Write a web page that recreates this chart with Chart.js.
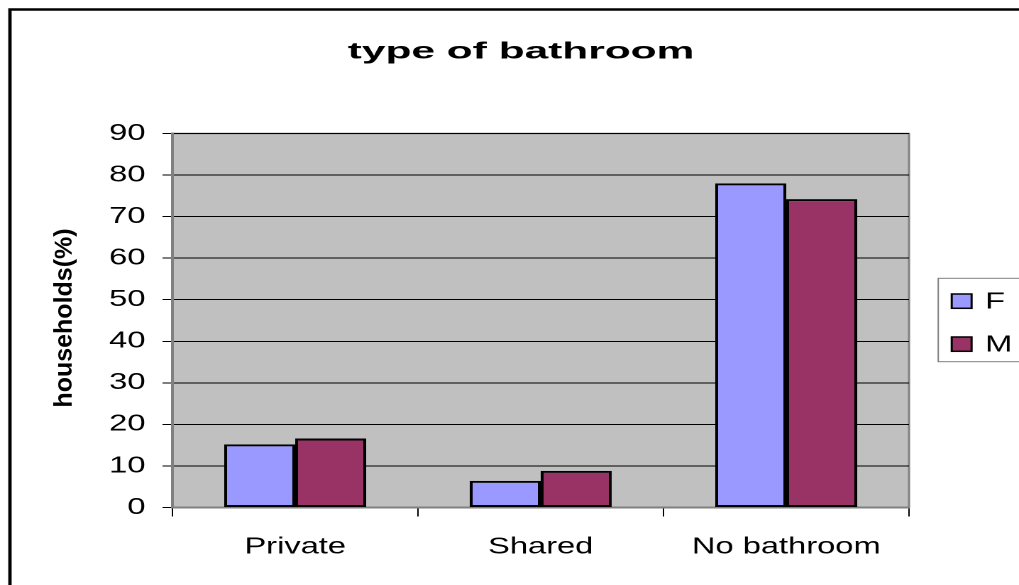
<!DOCTYPE html>
<html>
<head>
<meta charset="utf-8">
<script src="https://cdn.jsdelivr.net/npm/chart.js@4"></script>
<style>
  html, body { margin: 0; padding: 0; background: #fff; overflow: hidden; }
  /* the reference is stretched sideways, so the chart is drawn narrow and widened */
  #wrap { width: 718px; height: 585px; transform: scaleX(1.4192); transform-origin: 0 0; }
</style>
</head>
<body>
<div id="wrap"><canvas id="chart" width="718" height="585"></canvas></div>
<script>
// Données
const categories = ["Private", "Shared", "No bathroom"];
const seriesNames = ["F", "M"];
const valuesF = [15.2, 6.4, 78.0];
const valuesM = [16.6, 8.8, 74.2];
const chartTitle = "type of bathroom";
const yAxisTitle = "households(%)";
const yMin = 0;
const yMax = 90;
const yStep = 10;

const colorF = "#9999FF";
const colorM = "#993366";
const FONT = "'Liberation Sans', Arial, sans-serif";
const SX = 1.4192;

// Fond, cadre, titre et légende façon Excel
const excelLook = {
  id: "excelLook",
  beforeDraw(chart) {
    const { ctx, chartArea: a } = chart;
    ctx.save();
    ctx.fillStyle = "#fff";
    ctx.fillRect(0, 0, chart.width, chart.height);
    ctx.strokeStyle = "#000";
    ctx.lineWidth = 2.4;
    ctx.beginPath();
    ctx.moveTo(7, chart.height + 5);
    ctx.lineTo(7, 9.5);
    ctx.lineTo(chart.width + 5, 9.5);
    ctx.stroke();
    ctx.fillStyle = "#C0C0C0";
    ctx.fillRect(a.left, a.top, a.right - a.left, a.bottom - a.top);
    ctx.strokeStyle = "#808080";
    ctx.lineWidth = 1.5;
    ctx.strokeRect(a.left, a.top, a.right - a.left, a.bottom - a.top);
    ctx.restore();
  },
  afterDraw(chart) {
    const ctx = chart.ctx;
    ctx.save();
    ctx.fillStyle = "#000";

    // titre
    ctx.save();
    ctx.font = "bold 23px " + FONT;
    ctx.textAlign = "center";
    ctx.textBaseline = "alphabetic";
    ctx.translate(367.1, 58.5);
    ctx.scale(1.3, 1);
    ctx.fillText(chartTitle, 0, 0);
    ctx.restore();

    // titre axe Y
    ctx.save();
    ctx.font = "bold 25px " + FONT;
    ctx.textAlign = "center";
    ctx.textBaseline = "alphabetic";
    ctx.translate(50.5, 318);
    ctx.rotate(-Math.PI / 2);
    ctx.scale(1, 1 / SX);
    ctx.fillText(yAxisTitle, 0, 0);
    ctx.restore();

    // légende
    ctx.strokeStyle = "#808080";
    ctx.lineWidth = 1;
    ctx.strokeRect(661.1, 278.3, 70, 83.4);
    const baselines = [308.3, 351.7];
    const boxTops = [294, 337];
    chart.data.datasets.forEach((ds, i) => {
      ctx.fillStyle = ds.backgroundColor;
      ctx.fillRect(670.6, boxTops[i], 14, 14.3);
      ctx.strokeStyle = "#000";
      ctx.lineWidth = 1.5;
      ctx.strokeRect(670.6, boxTops[i], 14, 14.3);
      ctx.fillStyle = "#000";
      ctx.font = "23px " + FONT;
      ctx.textAlign = "left";
      ctx.textBaseline = "alphabetic";
      ctx.fillText(ds.label, 694.1, baselines[i]);
    });
    ctx.restore();
  },
};

new Chart(document.getElementById("chart").getContext("2d"), {
  type: "bar",
  data: {
    labels: categories,
    datasets: [
      {
        label: seriesNames[0],
        data: valuesF,
        backgroundColor: colorF,
        borderColor: "#000",
        borderWidth: 2,
        borderSkipped: false,
      },
      {
        label: seriesNames[1],
        data: valuesM,
        backgroundColor: colorM,
        borderColor: "#000",
        borderWidth: 2,
        borderSkipped: false,
      },
    ],
  },
  options: {
    responsive: false,
    animation: false,
    devicePixelRatio: 2,
    layout: { padding: { left: 0, right: 77.5, top: 133.5, bottom: 0 } },
    datasets: { bar: { categoryPercentage: 0.578, barPercentage: 1 } },
    plugins: {
      legend: { display: false },
      title: { display: false },
      tooltip: { enabled: false },
    },
    scales: {
      x: {
        grid: {
          offset: true,
          drawOnChartArea: false,
          color: "#000",
          tickLength: 9,
        },
        border: { color: "#808080", width: 2 },
        ticks: { color: "#000", font: { family: FONT, size: 23 }, padding: 17 },
        afterFit: (scale) => { scale.height = 77.5; },
      },
      y: {
        min: yMin,
        max: yMax,
        ticks: {
          stepSize: yStep,
          color: "#000",
          font: { family: FONT, size: 23 },
          padding: 12,
        },
        grid: { color: "#000", lineWidth: 1, tickLength: 7 },
        border: { color: "#808080", width: 2 },
        afterFit: (scale) => { scale.width = 121.5; },
      },
    },
  },
  plugins: [excelLook],
});
</script>
</body>
</html>
